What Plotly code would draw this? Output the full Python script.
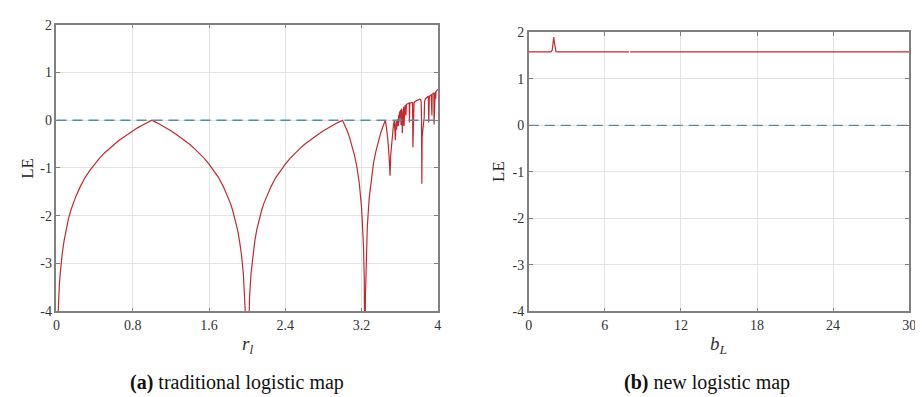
import plotly.graph_objects as go

# ---- data ----
# (a) traditional logistic map: LE vs r_l
r_vals = [0.01, 0.02, 0.03, 0.04, 0.05, 0.06, 0.08, 0.1, 0.125, 0.15, 0.175, 0.2, 0.25, 0.3, 0.35, 0.4,
          0.45, 0.5, 0.55, 0.6, 0.65, 0.7, 0.75, 0.8, 0.85, 0.9, 0.95, 1.0,
          1.05, 1.1, 1.15, 1.2, 1.25, 1.3, 1.35, 1.4, 1.45, 1.5, 1.55, 1.6, 1.65, 1.7, 1.75, 1.8, 1.825,
          1.85, 1.875, 1.9, 1.92, 1.94, 1.96, 1.975, 1.985, 2.0, 2.015, 2.025, 2.04, 2.06, 2.08, 2.1,
          2.125, 2.15, 2.175, 2.2, 2.25, 2.3, 2.35, 2.4, 2.45, 2.5, 2.55, 2.6, 2.65, 2.7, 2.75, 2.8, 2.85,
          2.9, 2.95, 3.0,
          3.01, 3.03, 3.05, 3.075, 3.1, 3.125, 3.15, 3.175, 3.2, 3.21, 3.22, 3.228, 3.236, 3.24, 3.25,
          3.26, 3.28, 3.3, 3.325, 3.35, 3.375, 3.4, 3.425, 3.449,
          3.46, 3.475, 3.49, 3.4986, 3.505, 3.52, 3.535, 3.544, 3.55, 3.5546, 3.558, 3.564, 3.5667, 3.5688,
          3.572, 3.575, 3.578, 3.58, 3.582, 3.585, 3.588, 3.59, 3.593, 3.596, 3.6, 3.603, 3.606, 3.61,
          3.613, 3.616, 3.62, 3.624, 3.627, 3.63, 3.634, 3.637, 3.64, 3.645, 3.65, 3.655, 3.66, 3.665,
          3.67, 3.675, 3.68, 3.69, 3.7, 3.702, 3.705, 3.71, 3.72, 3.73, 3.735, 3.738, 3.742, 3.75,
          3.76, 3.77, 3.78, 3.79, 3.8, 3.81, 3.82, 3.825, 3.8284, 3.83, 3.832, 3.835, 3.84, 3.85, 3.857,
          3.86, 3.87, 3.88, 3.89, 3.9, 3.905, 3.91, 3.92, 3.93, 3.9375, 3.94, 3.95, 3.958, 3.96, 3.963,
          3.967, 3.972, 3.977, 3.98, 3.99, 4.0]
le_a = [-4.4, -3.85, -3.45, -3.2, -2.98, -2.8, -2.52, -2.3, -2.07, -1.89, -1.74, -1.61, -1.39, -1.2, -1.05, -0.92,
        -0.8, -0.69, -0.6, -0.51, -0.43, -0.36, -0.29, -0.22, -0.16, -0.105, -0.05, 0.0,
        -0.05, -0.105, -0.16, -0.22, -0.29, -0.36, -0.43, -0.51, -0.6, -0.69, -0.8, -0.92, -1.05, -1.2, -1.39, -1.61, -1.74,
        -1.9, -2.08, -2.3, -2.53, -2.81, -3.22, -3.7, -4.2, -6.0, -4.2, -3.7, -3.22, -2.81, -2.53, -2.3,
        -2.08, -1.9, -1.74, -1.61, -1.39, -1.2, -1.05, -0.92, -0.8, -0.69, -0.6, -0.51, -0.43, -0.36, -0.29, -0.22, -0.16,
        -0.105, -0.05, 0.0,
        -0.04, -0.13, -0.226, -0.37, -0.53, -0.73, -0.97, -1.3, -1.83, -2.13, -2.64, -3.3, -6.0, -3.7, -2.77,
        -2.23, -1.62, -1.24, -0.9, -0.65, -0.45, -0.27, -0.127, 0.0,
        -0.15, -0.4, -0.8, -1.16, -0.75, -0.3, -0.08, -0.01, -0.15, -0.42, -0.15, -0.02, -0.2, -0.01,
        0.01, 0.02, -0.08, 0.04, 0.06, -0.12, 0.08, 0.1, -0.05, 0.14, 0.18, 0.05, 0.19, 0.21,
        -0.1, 0.22, 0.24, 0.15, -0.27, -0.05, 0.18, 0.26, 0.28, -0.12, 0.29, 0.3, 0.31, 0.1,
        0.33, 0.34, 0.34, 0.35, 0.36, -0.05, 0.33, 0.36, 0.37, 0.38, 0.37, -0.57, 0.02, 0.36,
        0.39, 0.4, 0.42, 0.43, 0.43, 0.44, 0.43, 0.38, 0.0, -0.3, -1.33, -0.35, -0.15, -0.05, 0.05,
        0.38, 0.45, 0.47, 0.49, 0.5, -0.05, 0.49, 0.52, 0.53, 0.1, 0.54, 0.56, 0.57, -0.09, 0.12,
        0.58, 0.59, 0.45, 0.6, 0.62, 0.65]

# (b) new logistic map: LE vs b_L
b_vals = [0, 1.75, 1.85, 1.93, 1.97, 2.02, 2.08, 2.15, 2.3, 5.0, 5.1, 5.2, 7.9, 7.95, 8.0,
          12.9, 13.0, 13.1, 15.1, 15.2, 15.3, 30]
le_b = [1.58, 1.58, 1.62, 1.8, 1.9, 1.78, 1.62, 1.585, 1.58, 1.58, 1.595, 1.58, 1.58, None, 1.58,
        1.58, 1.59, 1.58, 1.58, 1.595, 1.58, 1.58]

xticks_a = [0, 0.8, 1.6, 2.4, 3.2, 4]
xlabels_a = ["0", "0.8", "1.6", "2.4", "3.2", "4"]
xticks_b = [0, 6, 12, 18, 24, 30]
xlabels_b = ["0", "6", "12", "18", "24", "30"]
yticks = [-4, -3, -2, -1, 0, 1, 2]
ylabels = ["-4", "-3", "-2", "-1", "0", "1", "2"]

RED = "#bf2a30"
DASH = "#5a8aa6"
FONT = "Liberation Serif, Times New Roman, DejaVu Serif, serif"

fig = go.Figure()
fig.add_trace(go.Scatter(x=r_vals, y=le_a, mode="lines", line=dict(color=RED, width=1.2),
                         xaxis="x", yaxis="y", showlegend=False, hoverinfo="skip"))
fig.add_trace(go.Scatter(x=[0, 4], y=[0, 0], mode="lines",
                         line=dict(color=DASH, width=1.4, dash="10px,6px"),
                         xaxis="x", yaxis="y", showlegend=False))
fig.add_trace(go.Scatter(x=b_vals, y=le_b, mode="lines", line=dict(color=RED, width=1.2),
                         connectgaps=False, xaxis="x2", yaxis="y2", showlegend=False))
fig.add_trace(go.Scatter(x=[0, 30], y=[0, 0], mode="lines",
                         line=dict(color=DASH, width=1.4, dash="10px,6px"),
                         xaxis="x2", yaxis="y2", showlegend=False))

W, H = 923, 397
def px(xp):
    return xp / W
def py(yp):
    return 1 - yp / H

axis_common = dict(showline=True, linecolor="#808080", linewidth=1.5, mirror="ticks",
                   ticks="inside", ticklen=4, tickcolor="#808080", tickwidth=1,
                   showgrid=True, gridcolor="#e3e3e3", gridwidth=1, zeroline=False,
                   tickfont=dict(family=FONT, size=14, color="#333333"))

fig.update_layout(
    width=W, height=H, margin=dict(l=0, r=0, t=0, b=0),
    paper_bgcolor="white", plot_bgcolor="white",
    xaxis=dict(domain=[px(45), px(431)], range=[0, 4], tickvals=xticks_a,
               ticktext=xlabels_a, anchor="y", **axis_common),
    yaxis=dict(domain=[py(308), py(10)], range=[-4, 2], tickvals=yticks, ticktext=ylabels,
               anchor="x", **axis_common),
    xaxis2=dict(domain=[px(523), px(908)], range=[0, 30], tickvals=xticks_b, ticktext=xlabels_b,
                anchor="y2", **axis_common),
    yaxis2=dict(domain=[py(308), py(18)], range=[-4, 2], tickvals=yticks, ticktext=ylabels,
                anchor="x2", **axis_common),
)

ann = [
    dict(text="LE", x=px(16), y=py(159), textangle=-90, font=dict(family=FONT, size=17, color="#222")),
    dict(text="LE", x=px(493), y=py(163), textangle=-90, font=dict(family=FONT, size=17, color="#222")),
    dict(text="<i>r</i><sub><i>l</i></sub>", x=px(238), y=py(343), font=dict(family=FONT, size=19, color="#333")),
    dict(text="<i>b</i><sub><i>L</i></sub>", x=px(715), y=py(343), font=dict(family=FONT, size=19, color="#333")),
    dict(text="<b>(a)</b> traditional logistic map", x=px(228), y=py(382), font=dict(family=FONT, size=20, color="#111")),
    dict(text="<b>(b)</b> new logistic map", x=px(703), y=py(382), font=dict(family=FONT, size=20, color="#111")),
]
for a in ann:
    a.update(xref="paper", yref="paper", showarrow=False, xanchor="center", yanchor="middle")
fig.update_layout(annotations=ann)

fig.write_html("out.html")
